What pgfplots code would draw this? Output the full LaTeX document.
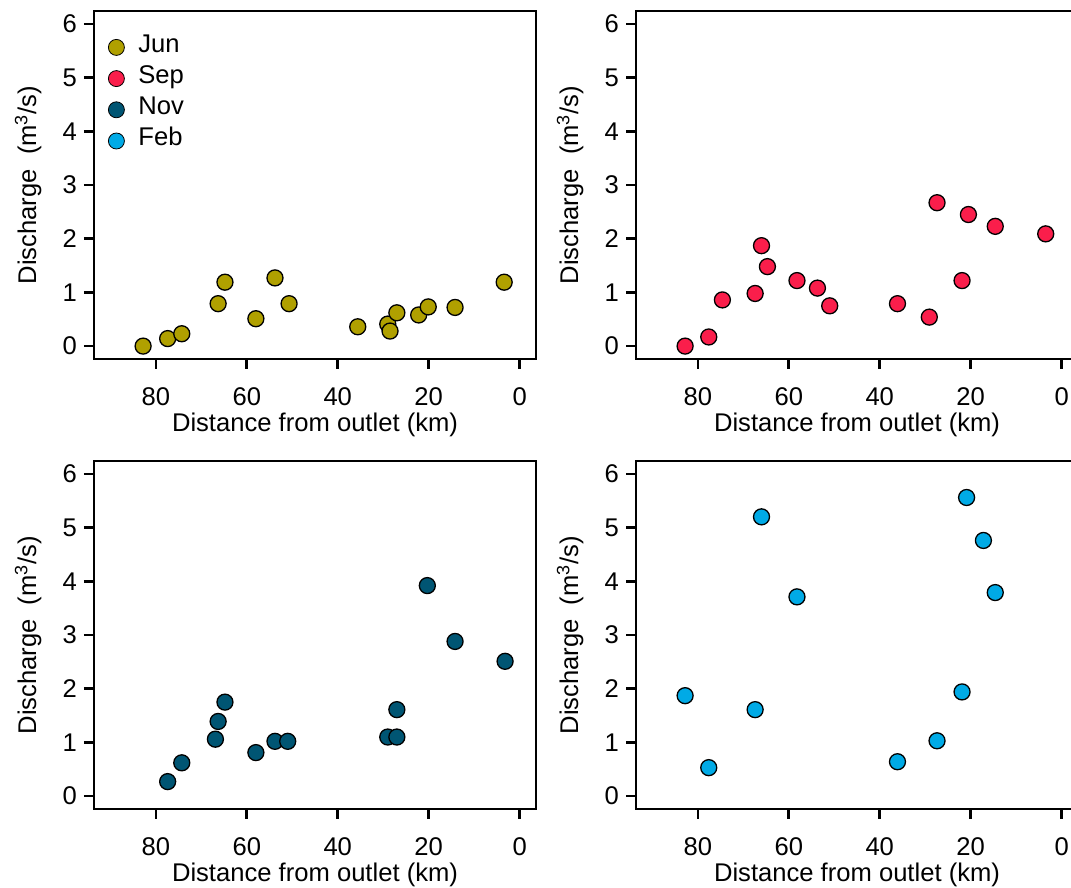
\documentclass[border=0pt]{standalone}
\usepackage{fontspec}
\setmainfont{Liberation Sans}
\usepackage{pgfplots}
\pgfplotsset{compat=1.18}

\definecolor{junc}{RGB}{176,160,0}
\definecolor{sepc}{RGB}{250,30,75}
\definecolor{novc}{RGB}{0,85,115}
\definecolor{febc}{RGB}{0,170,230}

\newcommand{\chartfont}{\fontsize{12.8pt}{15pt}\selectfont}

\pgfplotsset{
  dischargepanel/.style={
    scale only axis, width=221pt, height=174pt,
    x dir=reverse, xmin=-3.6, xmax=93.6, ymin=-0.24, ymax=6.24,
    xtick={0,20,40,60,80}, ytick={0,1,2,3,4,5,6},
    tick pos=left, tick align=outside,
    major tick length=5pt,
    axis line style={line width=1.3pt},
    every tick/.style={black, line width=1.3pt},
    /pgf/number format/assume math mode=true,
    ticklabel style={font=\chartfont},
    label style={font=\chartfont},
    xticklabel shift=5.7pt,
    xlabel={Distance from outlet (km)},
    ylabel={Discharge\hspace{0.55em}(m\textsuperscript{3}/s)},
    xlabel style={at={(axis description cs:0.5,-0.19)}, anchor=center},
    ylabel style={at={(axis description cs:-0.149,0.5)}, anchor=center},
  },
  dots/.style={only marks, mark=*, mark size=4pt,
    mark options={draw=black, line width=0.65pt, fill=#1}},
  keydot/.style={only marks, mark=*, mark size=4pt,
    mark options={draw=none, fill=#1}},
}

\begin{document}
\begin{tikzpicture}
\clip (0,0) rectangle (535.5pt,444pt);

% June
\begin{axis}[dischargepanel, at={(47pt,264.5pt)}, anchor=south west,
  legend image code/.code={\draw[#1] plot coordinates {(0pt,0pt)};},
  legend style={at={(axis description cs:0.0317,0.931)}, anchor=north west,
    draw=none, fill=none, inner sep=0pt, row sep=3.6pt, column sep=7pt,
    font=\chartfont,
    nodes={inner xsep=0pt, inner ysep=1pt, text height=0.75em, text depth=0.25em}},
  legend cell align=left]
\addplot[dots=junc, forget plot] coordinates {
  (82.8,0.00) (77.4,0.14) (74.3,0.23) (66.3,0.79) (64.8,1.19) (58.0,0.51)
  (53.8,1.27) (50.7,0.79) (35.6,0.36) (29.0,0.41) (28.5,0.28) (27.0,0.62)
  (22.2,0.58) (20.1,0.73) (14.2,0.72) (3.4,1.19)
};
\addlegendimage{keydot=junc}\addlegendentry{Jun}
\addlegendimage{keydot=sepc}\addlegendentry{Sep}
\addlegendimage{keydot=novc}\addlegendentry{Nov}
\addlegendimage{keydot=febc}\addlegendentry{Feb}
\end{axis}

% September
\begin{axis}[dischargepanel, at={(318pt,264.5pt)}, anchor=south west]
\addplot[dots=sepc] coordinates {
  (82.8,0.00) (77.6,0.17) (74.6,0.86) (67.4,0.98) (66.0,1.87) (64.7,1.48)
  (58.2,1.22) (53.7,1.08) (51.0,0.75) (36.1,0.79) (29.1,0.54) (27.4,2.67)
  (21.9,1.22) (20.5,2.45) (14.6,2.23) (3.5,2.09)
};
\end{axis}

% November
\begin{axis}[dischargepanel, at={(47pt,39.5pt)}, anchor=south west]
\addplot[dots=novc] coordinates {
  (77.4,0.27) (74.3,0.62) (66.9,1.06) (66.3,1.39) (64.8,1.75) (58.0,0.81)
  (53.8,1.02) (51.0,1.02) (29.0,1.10) (27.0,1.10) (27.0,1.61) (20.3,3.92)
  (14.2,2.88) (3.2,2.51)
};
\end{axis}

% February
\begin{axis}[dischargepanel, at={(318pt,39.5pt)}, anchor=south west]
\addplot[dots=febc] coordinates {
  (82.8,1.87) (77.6,0.53) (67.4,1.61) (66.0,5.20) (58.2,3.71) (36.1,0.64)
  (27.4,1.03) (21.9,1.94) (20.9,5.56) (17.2,4.76) (14.6,3.79)
};
\end{axis}
\end{tikzpicture}
\end{document}
